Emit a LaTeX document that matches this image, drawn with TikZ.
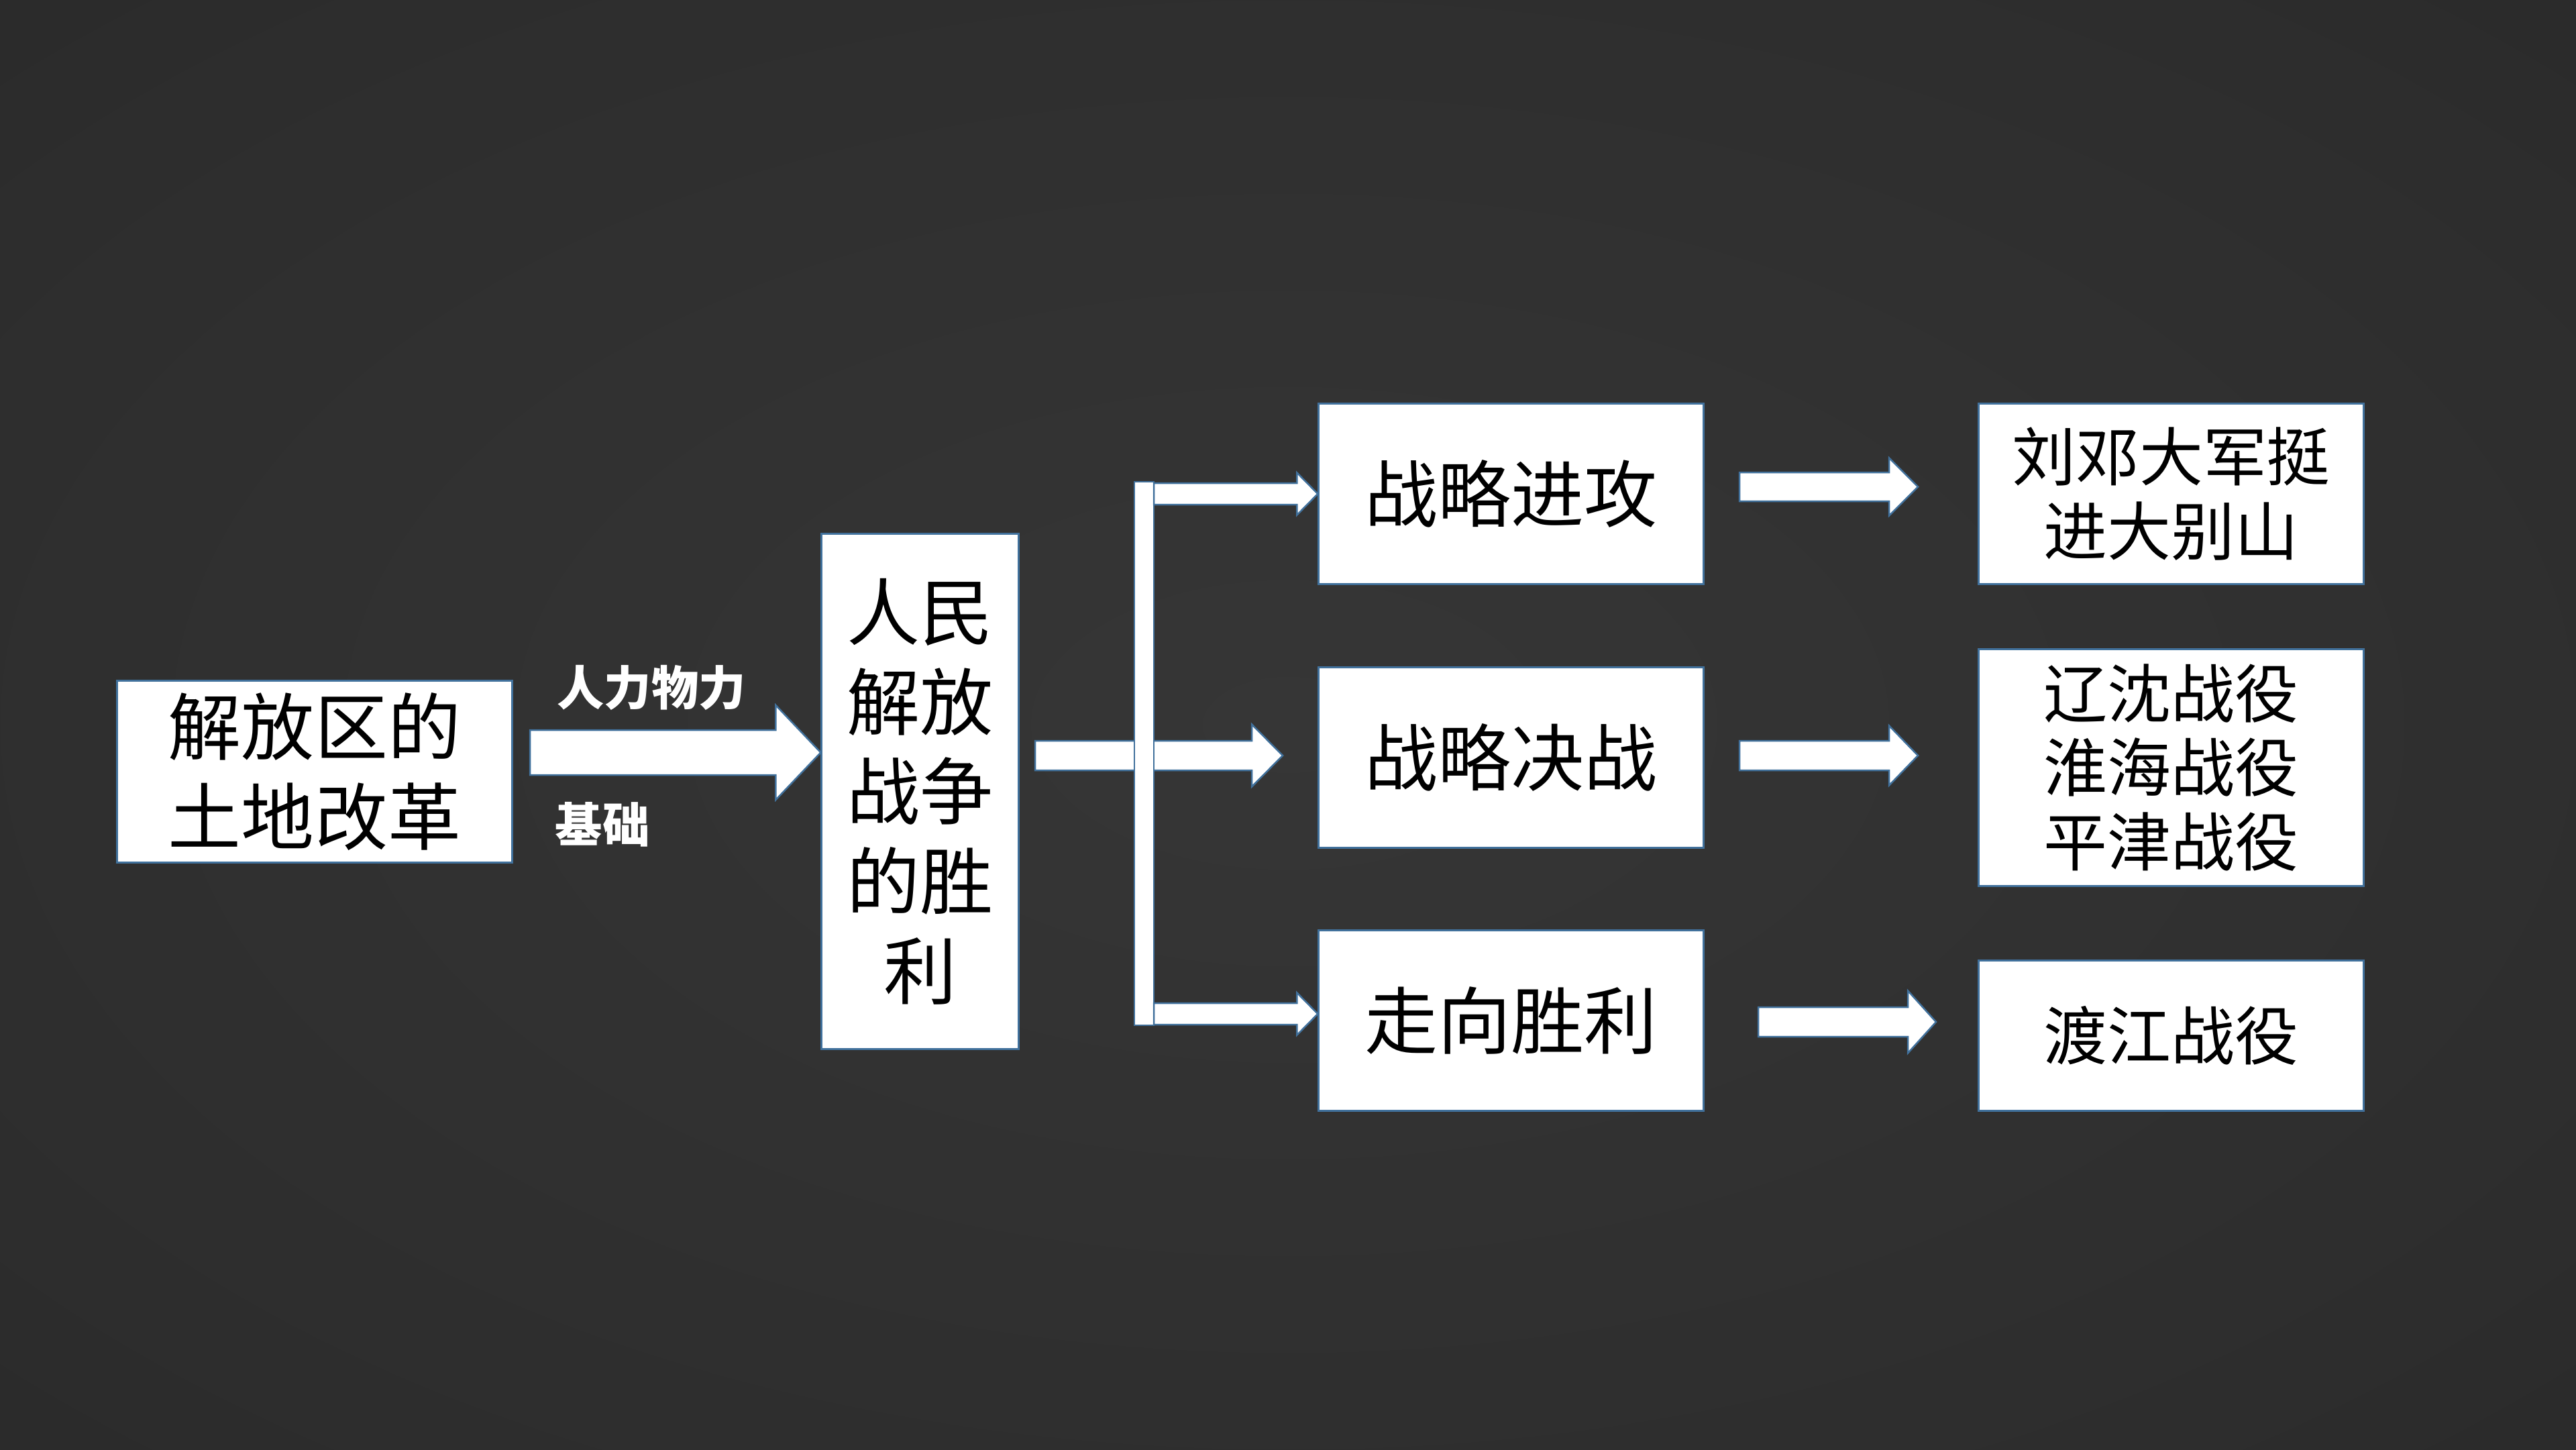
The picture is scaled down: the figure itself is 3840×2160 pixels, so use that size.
\documentclass[tikz,border=0pt]{standalone}
\usepackage{fontspec}
\setmainfont{Noto Sans CJK SC}
\usetikzlibrary{calc}
\definecolor{bgc}{RGB}{54,54,54}
\definecolor{bgm}{RGB}{45,45,45}
\definecolor{bge}{RGB}{36,36,36}
\definecolor{bgdark}{RGB}{24,24,24}
\definecolor{edge}{RGB}{65,113,156}
\pgfdeclareradialshading{vignette}{\pgfpoint{0bp}{0bp}}{color(0bp)=(bgc); color(30bp)=(bgm); color(50bp)=(bge); color(72bp)=(bgdark)}
\tikzset{
  box/.style={draw=edge, line width=0.03cm, fill=white, inner sep=0pt, align=center, text=black},
  bigtext/.style={font=\fontsize{31pt}{38pt}\selectfont},
  smalltext/.style={font=\fontsize{27pt}{31.5pt}\selectfont},
  lbl/.style={text=white, inner sep=0pt, font=\fontsize{20pt}{24pt}\selectfont\bfseries},
  blockarrow/.style={fill=white, draw=edge, line width=0.025cm, line join=miter},
}
% start, end (same y), shaft half, head half, head length (px)
\newcommand\barrow[5]{%
  \path[blockarrow] ($(#1)+(0,-#3)$) -- ($(#2)+(-#5,-#3)$) -- ($(#2)+(-#5,-#4)$) -- (#2)
    -- ($(#2)+(-#5,#4)$) -- ($(#2)+(-#5,#3)$) -- ($(#1)+(0,#3)$) -- cycle;}
\begin{document}
\begin{tikzpicture}[x=0.01cm,y=-0.01cm]
\useasboundingbox (0,0) rectangle (3840,2160);
\shade[shading=vignette] (0,0) rectangle (3840,2160);

% boxes
\node[box, bigtext, minimum width=5.88cm, minimum height=2.70cm] (land) at (469,1150) {解放区的\\土地改革};
\node[box, bigtext, minimum width=2.93cm, minimum height=7.67cm] (victory) at (1371.5,1179.5) {人民\\解放\\战争\\的胜\\利};
\node[box, bigtext, minimum width=5.73cm, minimum height=2.68cm] (attack) at (2252.5,736) {战略进攻};
\node[box, bigtext, minimum width=5.73cm, minimum height=2.68cm] (decisive) at (2252.5,1129) {战略决战};
\node[box, bigtext, minimum width=5.73cm, minimum height=2.68cm] (towin) at (2252.5,1521) {走向胜利};
\node[box, smalltext, minimum width=5.73cm, minimum height=2.68cm] (dabie) at (3236.5,736) {刘邓大军挺\\进大别山};
\node[box, smalltext, minimum width=5.73cm, minimum height=3.52cm] (three) at (3236.5,1144) {辽沈战役\\淮海战役\\平津战役};
\node[box, smalltext, minimum width=5.73cm, minimum height=2.23cm] (river) at (3236.5,1543.5) {渡江战役};

% labels
\node[lbl] (manpower) at (971,1025) {人力物力};
\node[lbl] (basis) at (898,1229) {基础};

% land -> victory
\coordinate (a0s) at (790,1121.5);
\coordinate (a0e) at (victory.west |- a0s);
\barrow{a0s}{a0e}{33.5}{70.5}{67}

% trunk
\coordinate (tms) at (1543,1126);
\coordinate (tme) at (1912,1126);
\barrow{tms}{tme}{22}{46.5}{46}
\path[blockarrow] (1691,718) rectangle (1720,1528);
\coordinate (tts) at (1720,736);
\coordinate (tte) at (attack.west |- tts);
\barrow{tts}{tte}{16}{31.5}{31}
\coordinate (tbs) at (1720,1511);
\coordinate (tbe) at (towin.west |- tbs);
\barrow{tbs}{tbe}{16}{31.5}{31}

% right arrows
\coordinate (r1s) at (2593,725.5);
\coordinate (r1e) at (2859,725.5);
\barrow{r1s}{r1e}{21.5}{43}{43}
\coordinate (r2s) at (2593,1126);
\coordinate (r2e) at (2859,1126);
\barrow{r2s}{r2e}{22}{44.5}{43}
\coordinate (r3s) at (2621,1523);
\coordinate (r3e) at (2886,1523);
\barrow{r3s}{r3e}{22}{46.5}{42}
\end{tikzpicture}
\end{document}
